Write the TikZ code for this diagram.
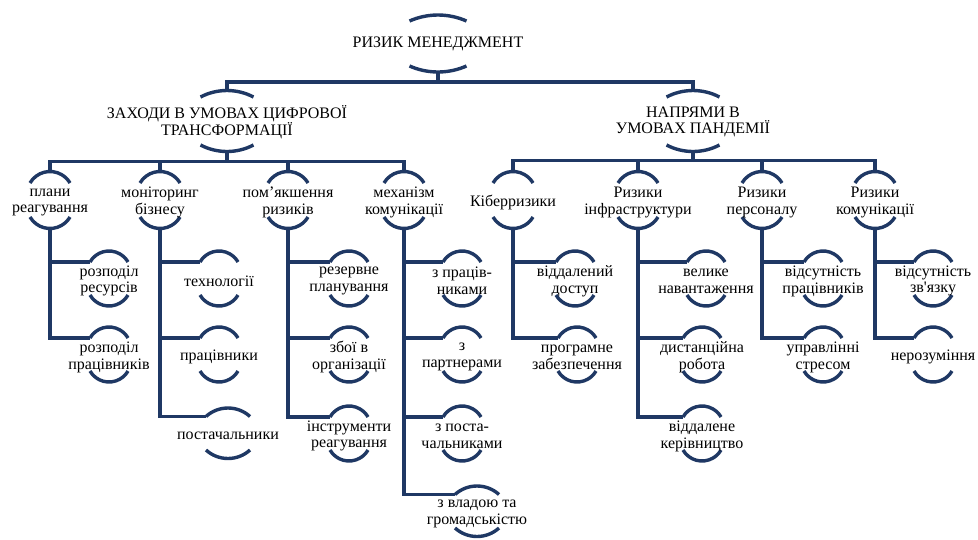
\documentclass[tikz,border=0pt]{standalone}
\usepackage{fontspec}
\setmainfont{Liberation Serif}
\usetikzlibrary{backgrounds}
\definecolor{navy}{HTML}{1F3864}

\tikzset{
  lbl/.style={align=center, inner sep=0pt, font=\fontsize{16}{16.8}\selectfont},
  conn/.style={draw=navy, line width=3.4pt},
}

% дужки над і під підписом: вузол, півхорда, стріла дуги, відступ угору, відступ униз
\newcommand{\brk}[5]{%
  \pgfmathsetmacro{\brkR}{(#2*#2+#3*#3)/(2*#3)}%
  \pgfmathsetmacro{\brkA}{asin(#2/\brkR)}%
  \begin{pgfonlayer}{background}
  \draw[conn] ([shift={(-#2,-#4)}]#1.center) coordinate (#1-l)
    arc[start angle=270-\brkA, end angle=270+\brkA, radius=\brkR];
  \draw[conn] ([shift={(-#2,#5)}]#1.center)
    arc[start angle=90+\brkA, end angle=90-\brkA, radius=\brkR];
  \end{pgfonlayer}
  \coordinate (#1-t) at ([shift={(0,-#4-#3)}]#1.center);
  \coordinate (#1-b) at ([shift={(0,#5+#3)}]#1.center);
}

\begin{document}
\begin{tikzpicture}[x=1pt, y=-1pt]
    \useasboundingbox (0,0) rectangle (978,539);

    % Верхні рівні
    \node[lbl] (risk) at (438,44) {РИЗИК МЕНЕДЖМЕНТ};
    \node[lbl] (digit) at (227,122) {ЗАХОДИ В УМОВАХ ЦИФРОВОЇ\\ТРАНСФОРМАЦІЇ};
    \node[lbl] (pand) at (693,122) {НАПРЯМИ В\\УМОВАХ ПАНДЕМІЇ};

    % Третій рівень
    \foreach \n/\x/\t in {plan/50/{плани\\реагування}, mon/160/{моніторинг\\бізнесу},
        pom/288/{пом’якшення\\ризиків}, mech/404/{механізм\\комунікації},
        kib/513/{Кіберризики}, infra/638/{Ризики\\інфраструктури},
        pers/762/{Ризики\\персоналу}, kom/875/{Ризики\\комунікації}}
        \node[lbl] (\n) at (\x,202.5) {\t};

    % Четвертий рівень
    \node[lbl] (plan1) at (109,281) {розподіл\\ресурсів};
    \node[lbl] (plan2) at (109,357) {розподіл\\працівників};
    \node[lbl] (mon1) at (219,281) {технології};
    \node[lbl] (mon2) at (219,357) {працівники};
    \node[lbl] (mon3) at (228,436) {постачальники};
    \node[lbl] (pom1) at (349,281) {резервне\\планування};
    \node[lbl] (pom2) at (349,357) {збої в\\організації};
    \node[lbl] (pom3) at (349,436) {інструменти\\реагування};
    \node[lbl] (mech1) at (462,281) {з праців-\\никами};
    \node[lbl] (mech2) at (462,357) {з\\партнерами};
    \node[lbl] (mech3) at (462,436) {з поста-\\чальниками};
    \node[lbl] (mech4) at (477,514) {з владою та\\громадськістю};
    \node[lbl] (kib1) at (575,281) {віддалений\\доступ};
    \node[lbl] (kib2) at (577,357) {програмне\\забезпечення};
    \node[lbl] (infra1) at (706,281) {велике\\навантаження};
    \node[lbl] (infra2) at (702,357) {дистанційна\\робота};
    \node[lbl] (infra3) at (702,436) {віддалене\\керівництво};
    \node[lbl] (pers1) at (823,281) {відсутність\\працівників};
    \node[lbl] (pers2) at (823,357) {управлінні\\стресом};
    \node[lbl] (kom1) at (933,281) {відсутність\\зв\textquotesingle язку};
    \node[lbl] (kom2) at (933,357) {нерозуміння};

    % Дужки
    \brk{risk}{28.5}{6}{23}{22}
    \foreach \n in {digit,pand} {\brk{\n}{26.5}{6.5}{25}{23}}
    \foreach \n in {plan,mon,pom,mech,kib,infra,pers,kom} {\brk{\n}{20}{11.5}{19.5}{14.5}}
    \foreach \n in {plan1,plan2,mon1,mon2,pom1,pom2,pom3,mech1,mech2,mech3,
        kib1,kib2,infra1,infra2,infra3,pers1,pers2,kom1,kom2} {\brk{\n}{19}{11}{19}{14}}
    \foreach \n in {mon3,mech4} {\brk{\n}{22}{8.5}{19.5}{14}}

    % Зв'язки
    \foreach \n in {digit,pand} \draw[conn] (risk-b) -- ++(0,10) -| (\n-t);
    \foreach \n in {plan,mon,pom,mech} \draw[conn] (digit-b) -- ++(0,10) -| (\n-t);
    \foreach \n in {kib,infra,pers,kom} \draw[conn] (pand-b) -- ++(0,9) -| (\n-t);
    \foreach \p/\k in {plan/1,plan/2,mon/1,mon/2,mon/3,pom/1,pom/2,pom/3,
        mech/1,mech/2,mech/3,mech/4,kib/1,kib/2,infra/1,infra/2,infra/3,
        pers/1,pers/2,kom/1,kom/2}
        \draw[conn] (\p-b) |- (\p\k-l);
\end{tikzpicture}
\end{document}
